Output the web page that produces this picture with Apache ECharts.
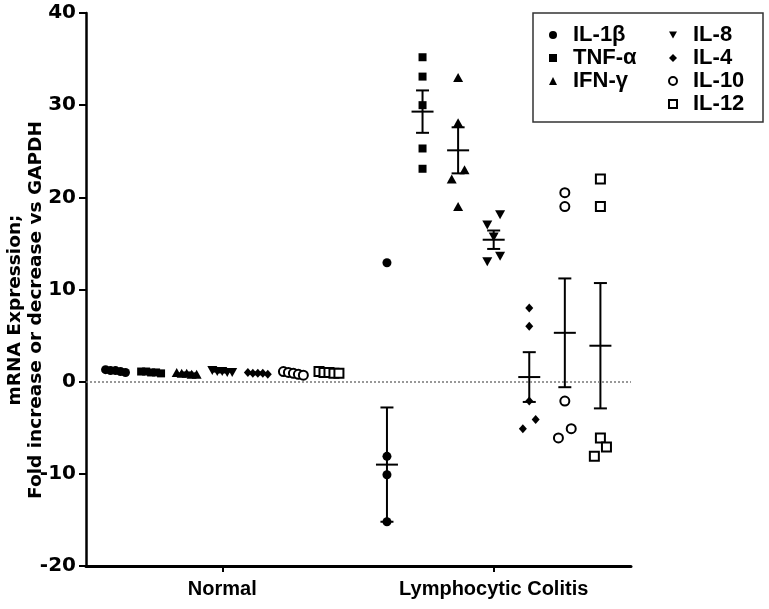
<!DOCTYPE html>
<html>
<head>
<meta charset="utf-8">
<script src="https://cdn.jsdelivr.net/npm/echarts@6/dist/echarts.min.js"></script>
<style>html,body{margin:0;padding:0;background:#fff}#c{width:769px;height:609px}</style>
</head>
<body>
<div id="c"></div>
<script>
// ---- data ----
const categories = ['Normal', 'Lymphocytic Colitis'];
const seriesNames = ['IL-1β', 'TNF-α', 'IFN-γ', 'IL-8', 'IL-4', 'IL-10', 'IL-12'];
const yTicks = [-20, -10, 0, 10, 20, 30, 40];

// individual points, one array per cytokine
const normalPoints = [
  [1.3, 1.2, 1.2, 1.1, 1.0],
  [1.1, 1.1, 1.0, 1.0, 0.9],
  [1.0, 0.9, 0.9, 0.8, 0.8],
  [1.2, 1.1, 1.1, 1.0, 1.0],
  [1.0, 0.9, 0.9, 0.9, 0.8],
  [1.1, 1.0, 0.9, 0.8, 0.7],
  [1.1, 1.0, 1.0, 0.9, 0.9]
];
const lcPoints = [
  [12.9, -8.1, -10.1, -15.2],
  [35.2, 33.1, 30.0, 25.3, 23.1],
  [33.0, 28.1, 23.0, 22.0, 19.0],
  [18.1, 17.0, 15.7, 13.6, 13.0],
  [8.0, 6.0, -2.1, -4.1, -5.1],
  [20.5, 19.0, -2.1, -5.1, -6.1],
  [22.0, 19.0, -6.1, -7.1, -8.1]
];
const normalMean = [1.2, 1.0, 0.9, 1.1, 0.9, 0.9, 1.0];
const normalSem = [0.1, 0.1, 0.1, 0.1, 0.1, 0.1, 0.1];
const lcMean = [-9.0, 29.3, 25.1, 15.4, 0.5, 5.3, 3.9];
const lcSem = [6.2, 2.3, 2.5, 1.0, 2.7, 5.9, 6.8];

// ---- layout / style ----
const FONT = '"Liberation Sans", Arial, sans-serif';
const WIDE = '"DejaVu Sans", "Liberation Sans", sans-serif';
const groupCenters = [3.83, 11.46];
const xMax = 15.32;
const symbols = [
  {symbol: 'circle', size: 9, fill: '#000'},
  {symbol: 'rect', size: 8, fill: '#000'},
  {symbol: 'triangle', size: [10, 9], fill: '#000'},
  {symbol: 'path://M0,0L10,0L5,9Z', size: [10, 9], fill: '#000'},
  {symbol: 'diamond', size: [8, 9], fill: '#000'},
  {symbol: 'circle', size: 9, fill: '#fff'},
  {symbol: 'rect', size: 9, fill: '#fff'}
];

function jitter(vals) {
  // spread points with nearly equal values sideways (like a column scatter plot)
  const idx = vals.map((v, i) => i).sort((a, b) => vals[b] - vals[a]);
  const off = new Array(vals.length).fill(0);
  let cluster = [idx[0]];
  const flush = () => {
    const n = cluster.length;
    let offs;
    if (n === 1) offs = [0];
    else if (n === 2) offs = [0.18, -0.18];
    else if (n === 3) offs = [0, 0.17, -0.17];
    else offs = cluster.map((c, j) => (j - (n - 1) / 2) * 0.14);
    cluster.forEach((c, j) => off[c] = offs[j]);
  };
  for (let k = 1; k < idx.length; k++) {
    const prev = cluster[cluster.length - 1];
    if (Math.abs(vals[prev] - vals[idx[k]]) < 1.2) cluster.push(idx[k]);
    else { flush(); cluster = [idx[k]]; }
  }
  flush();
  return off;
}

const series = [];
seriesNames.forEach((name, i) => {
  const data = [];
  [normalPoints, lcPoints].forEach((grp, g) => {
    const x0 = groupCenters[g] + (i - 3);
    const off = jitter(grp[i]);
    grp[i].forEach((v, j) => data.push([x0 + off[j], v]));
  });
  const s = symbols[i];
  series.push({
    name: name,
    type: 'scatter',
    symbol: s.symbol,
    symbolSize: s.size,
    itemStyle: s.fill === '#fff'
      ? {color: '#fff', borderColor: '#000', borderWidth: 2, opacity: 1}
      : {color: '#000', opacity: 1},
    data: data,
    z: 3
  });
});

const errData = [];
seriesNames.forEach((name, i) => {
  errData.push([groupCenters[0] + (i - 3), normalMean[i], normalSem[i]]);
  errData.push([groupCenters[1] + (i - 3), lcMean[i], lcSem[i]]);
});

series.push({
  type: 'custom',
  name: 'meanSem',
  data: errData,
  encode: {x: 0, y: 1},
  z: 2,
  renderItem: function (params, api) {
    const x = api.value(0), m = api.value(1), s = api.value(2);
    const pm = api.coord([x, m]);
    const pt = api.coord([x, m + s]);
    const pb = api.coord([x, m - s]);
    const st = {stroke: '#000', lineWidth: 2};
    return {
      type: 'group',
      children: [
        {type: 'line', shape: {x1: pm[0], y1: pt[1], x2: pm[0], y2: pb[1]}, style: st},
        {type: 'line', shape: {x1: pm[0] - 6.5, y1: pt[1], x2: pm[0] + 6.5, y2: pt[1]}, style: st},
        {type: 'line', shape: {x1: pm[0] - 6.5, y1: pb[1], x2: pm[0] + 6.5, y2: pb[1]}, style: st},
        {type: 'line', shape: {x1: pm[0] - 11, y1: pm[1], x2: pm[0] + 11, y2: pm[1]}, style: st}
      ]
    };
  },
  markLine: {
    silent: true,
    symbol: ['none', 'none'],
    label: {show: false},
    lineStyle: {type: [2, 2], color: '#777', width: 1.5},
    data: [{yAxis: 0}]
  }
});

const legendCommon = {
  orient: 'vertical',
  itemWidth: 8,
  itemHeight: 8,
  itemGap: 1,
  padding: 0,
  selectedMode: false,
  formatter: function (name) { return '{t|' + name + '}'; },
  textStyle: {
    fontFamily: FONT, fontWeight: 'bold', fontSize: 22, color: '#000', lineHeight: 22,
    rich: {t: {fontFamily: FONT, fontWeight: 'bold', fontSize: 22, color: '#000', lineHeight: 22, padding: [0, 0, 0, 11]}}
  }
};

const chart = echarts.init(document.getElementById('c'), null, {renderer: 'canvas'});
chart.setOption({
  animation: false,
  backgroundColor: '#fff',
  grid: {left: 86, right: 138, top: 13, bottom: 43, containLabel: false},
  xAxis: {
    type: 'value',
    min: 0,
    max: xMax,
    splitLine: {show: false},
    axisLine: {show: true, onZero: false, lineStyle: {color: '#000', width: 3}},
    axisTick: {show: true, customValues: groupCenters, length: 6, lineStyle: {color: '#000', width: 2}},
    axisLabel: {
      show: true,
      customValues: groupCenters,
      margin: 13,
      formatter: function (v) {
        let best = 0;
        groupCenters.forEach((c, i) => { if (Math.abs(c - v) < Math.abs(groupCenters[best] - v)) best = i; });
        return categories[best];
      },
      fontFamily: FONT, fontWeight: 'bold', fontSize: 20, color: '#000'
    }
  },
  yAxis: {
    type: 'value',
    min: yTicks[0],
    max: yTicks[yTicks.length - 1],
    interval: 10,
    splitLine: {show: false},
    axisLine: {show: true, onZero: false, lineStyle: {color: '#000', width: 2.5}},
    axisTick: {show: true, length: 7, lineStyle: {color: '#000', width: 2}},
    axisLabel: {margin: 10, fontFamily: WIDE, fontWeight: 'bold', fontSize: 20, color: '#000'}
  },
  legend: [
    Object.assign({}, legendCommon, {data: seriesNames.slice(0, 3), left: 549, top: 24}),
    Object.assign({}, legendCommon, {data: seriesNames.slice(3), left: 668, top: 24})
  ],
  graphic: [
    {type: 'rect', shape: {x: 533, y: 13, width: 230, height: 109}, style: {fill: 'none', stroke: '#333', lineWidth: 1.5}, z: 10},
    {
      type: 'text', x: 26, y: 310, rotation: Math.PI / 2,
      style: {
        text: 'mRNA Expression;\nFold increase or decrease vs GAPDH',
        font: 'bold 18.5px ' + WIDE, fill: '#000', align: 'center', verticalAlign: 'middle', lineHeight: 21
      }
    }
  ],
  series: series
});
</script>
</body>
</html>
